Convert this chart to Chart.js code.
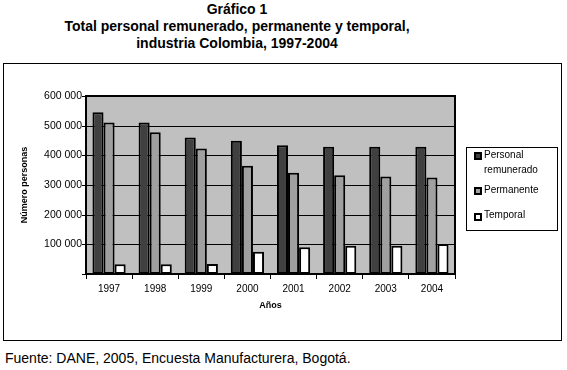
<!DOCTYPE html>
<html>
<head>
<meta charset="utf-8">
<script src="https://cdn.jsdelivr.net/npm/chart.js@4"></script>
<style>
    html, body { margin: 0; padding: 0; background: #fff; }
    body { width: 567px; height: 370px; position: relative; overflow: hidden; font-family: "Liberation Sans", Arial, sans-serif; }
    #titulo { position: absolute; left: 0; top: 1px; width: 474px; text-align: center; font-weight: bold; font-size: 14px; line-height: 17px; color: #000; }
    #marco { position: absolute; left: 3px; top: 63px; width: 557px; height: 276px; border: 1px solid #000; }
    #fuente { position: absolute; left: 5px; top: 350px; font-size: 14px; color: #000; }
    canvas { position: absolute; left: 0; top: 0; }
</style>
</head>
<body>
<div id="titulo">Gráfico 1<br>Total personal remunerado, permanente y temporal,<br>industria Colombia, 1997-2004</div>
<div id="marco"></div>
<div id="fuente">Fuente: DANE, 2005, Encuesta Manufacturera, Bogotá.</div>
<canvas id="grafico" width="567" height="370"></canvas>
<script>
//-- datos --
const anios = ["1997", "1998", "1999", "2000", "2001", "2002", "2003", "2004"];
const personalRemunerado = [545000, 511000, 460000, 449000, 434000, 429000, 429000, 429000];
const permanente = [511000, 478000, 423000, 365000, 341000, 333000, 329000, 325000];
const temporal = [33000, 33000, 34000, 75000, 90000, 95000, 95000, 101000];
const ticksY = [0, 100000, 200000, 300000, 400000, 500000, 600000];

const fuente = "'Liberation Sans', Arial, sans-serif";

//-- fondo gris del área de trazado y su borde --
const fondoPlot = {
    id: "fondoPlot",
    beforeDatasetsDraw(chart) {
        const a = chart.chartArea, ctx = chart.ctx;
        ctx.save();
        ctx.fillStyle = "#c0c0c0";
        ctx.fillRect(a.left, a.top, a.right - a.left, a.bottom - a.top);
        ctx.strokeStyle = "#000";
        ctx.lineWidth = 1;
        chart.scales.y.ticks.forEach(t => {
            const y = Math.round(chart.scales.y.getPixelForValue(t.value)) + 0.5;
            ctx.beginPath();
            ctx.moveTo(a.left - 4, y);
            ctx.lineTo(a.right, y);
            ctx.stroke();
        });
        ctx.restore();
    },
    afterDatasetsDraw(chart) {
        const a = chart.chartArea, ctx = chart.ctx;
        ctx.save();
        ctx.strokeStyle = "#000";
        ctx.lineWidth = 2;
        ctx.strokeRect(a.left, a.top, a.right - a.left, a.bottom - a.top);
        ctx.restore();
    }
};

//-- leyenda con recuadro, a la derecha --
const leyenda = {
    id: "leyenda",
    afterDraw(chart) {
        const ctx = chart.ctx;
        const x = 466, y = 147, w = 91, h = 83;
        ctx.save();
        ctx.fillStyle = "#fff";
        ctx.fillRect(x, y, w, h);
        ctx.strokeStyle = "#000";
        ctx.lineWidth = 1;
        ctx.strokeRect(x + 0.5, y + 0.5, w, h);
        //-- [líneas de texto, centro del texto, centro del cuadro] --
        const filas = [[["Personal", "remunerado"], 8, 9], [["Permanente"], 43, 44], [["Temporal"], 68, 70]];
        ctx.font = "10px " + fuente;
        ctx.textBaseline = "middle";
        filas.forEach((f, i) => {
            const ds = chart.data.datasets[i];
            const yy = y + f[1], ys = y + f[2];
            ctx.fillStyle = ds.backgroundColor;
            ctx.fillRect(x + 8, ys - 4, 8, 8);
            ctx.strokeStyle = "#000";
            ctx.lineWidth = 2;
            ctx.strokeRect(x + 9, ys - 3, 6, 6);
            ctx.fillStyle = "#000";
            ctx.fillText(f[0][0], x + 18, yy);
            if (f[0][1]) ctx.fillText(f[0][1], x + 18, yy + 15);
        });
        ctx.restore();
    }
};

const miles = v => v === 0 ? "" : String(v).replace(/\B(?=(\d{3})+(?!\d))/g, " ");

//-- opciones comunes de las barras --
const barra = { borderColor: "#000", borderWidth: 2, borderSkipped: false, barPercentage: 1, categoryPercentage: 0.72 };

new Chart(document.getElementById("grafico"), {
    type: "bar",
    data: {
        labels: anios,
        datasets: [
            { label: "Personal remunerado", data: personalRemunerado, backgroundColor: "#404040", ...barra },
            { label: "Permanente", data: permanente, backgroundColor: "#a0a0a0", ...barra },
            { label: "Temporal", data: temporal, backgroundColor: "#ffffff", ...barra }
        ]
    },
    options: {
        responsive: false,
        animation: false,
        layout: { padding: { left: 15, top: 96, right: 112, bottom: 55 } },
        plugins: {
            legend: { display: false },
            tooltip: { enabled: false }
        },
        scales: {
            x: {
                afterFit: s => { s.height = 41; },
                grid: { display: true, drawOnChartArea: false, color: "#000", tickLength: 5, offset: true },
                border: { display: false },
                ticks: { color: "#000", font: { family: fuente, size: 10 }, padding: 4 },
                title: { display: true, text: "Años", color: "#000", font: { family: fuente, size: 9, weight: "bold" }, padding: { top: 5 } }
            },
            y: {
                min: 0,
                max: 600000,
                afterFit: s => { s.width = 71; },
                afterBuildTicks: s => { s.ticks = ticksY.map(v => ({ value: v })); },
                grid: { display: false, drawTicks: false },
                border: { display: false },
                ticks: { color: "#000", font: { family: fuente, size: 10.5 }, padding: 4, callback: miles },
                title: { display: true, text: "Número personas", color: "#000", font: { family: fuente, size: 9, weight: "bold" }, padding: { bottom: 10 } }
            }
        }
    },
    plugins: [fondoPlot, leyenda]
});
</script>
</body>
</html>
